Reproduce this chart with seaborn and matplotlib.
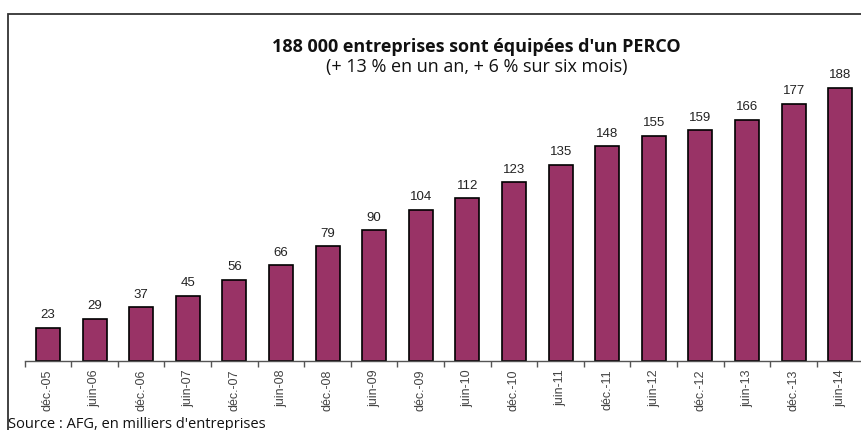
import numpy as np
import pandas as pd
import matplotlib
matplotlib.use('Agg')
import matplotlib.pyplot as plt
import seaborn as sns
from matplotlib.patches import Rectangle

periods = ['déc.-05', 'juin-06', 'déc.-06', 'juin-07', 'déc.-07', 'juin-08',
           'déc.-08', 'juin-09', 'déc.-09', 'juin-10', 'déc.-10', 'juin-11',
           'déc.-11', 'juin-12', 'déc.-12', 'juin-13', 'déc.-13', 'juin-14']
entreprises = [23, 29, 37, 45, 56, 66, 79, 90, 104, 112, 123, 135,
               148, 155, 159, 166, 177, 188]

df = pd.DataFrame({'periode': periods, 'nb': entreprises})

sns.set_style("white")
plt.rcParams['font.family'] = ['Liberation Sans', 'DejaVu Sans']

fig = plt.figure(figsize=(8.61, 4.30), dpi=100)
ax = fig.add_axes([24.7 / 861, 69 / 430, 838.8 / 861, 290.4 / 430])

sns.barplot(data=df, x='periode', y='nb', color='#993366', saturation=1,
            width=0.515, edgecolor='black', linewidth=1.2, ax=ax)

# étiquettes de valeur au-dessus des barres
for i, v in enumerate(entreprises):
    ax.text(i, v + 4.5, str(v), ha='center', va='bottom', fontsize=9.5,
            color='#222222')

ax.set_xlim(-0.5, 17.5)
ax.set_ylim(0, 200)
ax.set_xlabel('')
ax.set_ylabel('')
ax.set_yticks([])
for s in ['top', 'right', 'left']:
    ax.spines[s].set_visible(False)
ax.spines['bottom'].set_color('#555555')
ax.spines['bottom'].set_linewidth(1)

ax.set_xticks(range(len(periods)))
ax.set_xticklabels(periods, rotation=90, fontsize=9, color='#444444')
ax.tick_params(axis='x', which='major', length=0, pad=6)
ax.set_xticks(np.arange(-0.5, 18, 1), minor=True)
ax.tick_params(axis='x', which='minor', length=4, width=1, color='#555555',
               direction='out', bottom=True)

fig.text(476 / 861, 1 - 47 / 430, "188 000 entreprises sont équipées d'un PERCO",
         ha='center', va='center', fontsize=13, fontweight='bold',
         family=['Open Sans', 'DejaVu Sans'], color='#111111')
fig.text(477 / 861, 1 - 67 / 430, "(+ 13 % en un an, + 6 % sur six mois)",
         ha='center', va='center', fontsize=13,
         family=['Open Sans', 'DejaVu Sans'], color='#111111')
fig.text(8 / 861, 1 - 424 / 430, "Source : AFG, en milliers d'entreprises",
         ha='left', va='center', fontsize=10.5,
         family=['Open Sans', 'DejaVu Sans'], color='#111111')

fig.patches.append(Rectangle((7.5 / 861, -0.05), 1.0, 1 - 14 / 430 + 0.05,
                             transform=fig.transFigure, fill=False,
                             edgecolor='#333333', linewidth=1.3))

fig.savefig("out.png", dpi=100)
plt.close(fig)
